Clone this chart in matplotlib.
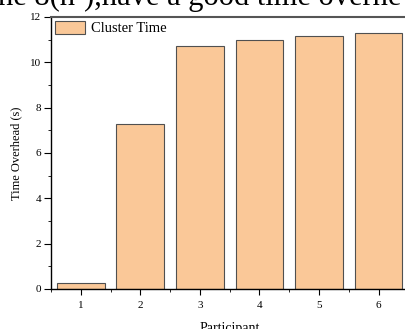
import matplotlib.pyplot as plt
from matplotlib.ticker import MultipleLocator

participants = [1, 2, 3, 4, 5, 6]
cluster_time = [0.26, 7.28, 10.74, 11.0, 11.14, 11.31]
y_ticks = [0, 2, 4, 6, 8, 10, 12]

plt.rcParams['font.family'] = ['Liberation Serif', 'DejaVu Serif']

fig = plt.figure(figsize=(4.06, 3.29), dpi=100)
ax = fig.add_axes([0.1256, 0.1216, 0.88, 0.8268])

ax.bar(participants, cluster_time, width=0.8, color='#FAC898',
       edgecolor='#505050', linewidth=0.8, label='Cluster Time')

ax.set_xlim(0.5, 6.5)
ax.set_ylim(0, 12)
ax.set_xticks(participants)
ax.set_yticks(y_ticks)
ax.xaxis.set_minor_locator(MultipleLocator(0.5))
ax.yaxis.set_minor_locator(MultipleLocator(1))
ax.tick_params(which='major', direction='out', length=5, width=0.8,
               labelsize=8, colors='black', pad=2)
ax.tick_params(which='minor', direction='out', length=2.5, width=0.6)
ax.tick_params(axis='x', which='major', length=4, pad=5)

for s in ax.spines.values():
    s.set_linewidth(1.0)
ax.spines['top'].set_color('#555555')
ax.spines['top'].set_linewidth(1.5)

ax.set_ylabel('Time Overhead (s)', fontsize=9, labelpad=6)
ax.set_xlabel('Participant', fontsize=10, labelpad=8)

ax.legend(loc='upper left', frameon=False, fontsize=10.5,
          handlelength=2.1, handleheight=1.0, borderaxespad=0.15,
          borderpad=0.1, handletextpad=0.4)

# cropped line of page text above the chart
fig.text(-0.005, 0.986, 'he 8(n\u00b2),have a good time overhe', fontsize=22,
         va='baseline', ha='left')

fig.savefig('out.png', dpi=100)
